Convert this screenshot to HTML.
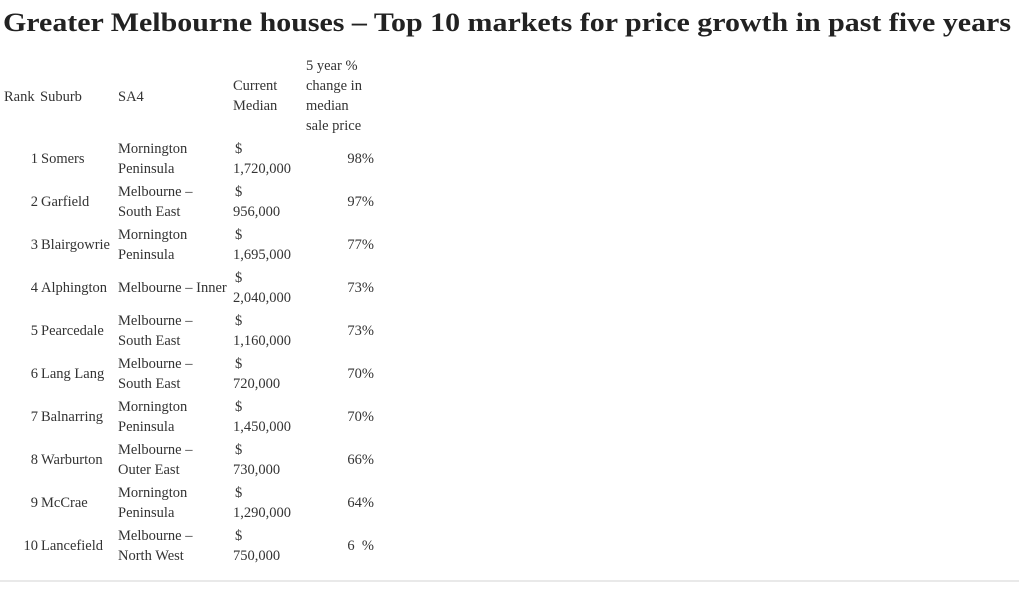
<!DOCTYPE html>
<html><head><meta charset="utf-8"><style>
body{margin:0;background:#fff;width:1019px;height:590px;overflow:hidden}
svg{display:block}
text{font-family:"Liberation Serif",serif;fill:#333;font-size:14.5px}
</style></head><body>
<svg width="1019" height="590">
<text x="3" y="31" font-weight="bold" style="font-size:26px;fill:#222" textLength="1008" lengthAdjust="spacingAndGlyphs">Greater Melbourne houses – Top 10 markets for price growth in past five years</text>
<g>
<text x="4" y="101">Rank</text>
<text x="40" y="101">Suburb</text>
<text x="118" y="101">SA4</text>
<text x="233" y="90">Current</text>
<text x="233" y="110">Median</text>
<text x="306" y="70">5 year %</text>
<text x="306" y="90">change in</text>
<text x="306" y="110">median</text>
<text x="306" y="130">sale price</text>
</g>
<g id="rows"></g>
<line x1="0" y1="581" x2="1019" y2="581" stroke="#e2e2e2" stroke-width="1.5"/>
</svg>
<script>
const suburbs=["Somers","Garfield","Blairgowrie","Alphington","Pearcedale","Lang Lang","Balnarring","Warburton","McCrae","Lancefield"];
const sa4a=["Mornington","Melbourne –","Mornington","Melbourne – Inner","Melbourne –","Melbourne –","Mornington","Melbourne –","Mornington","Melbourne –"];
const sa4b=["Peninsula","South East","Peninsula","","South East","South East","Peninsula","Outer East","Peninsula","North West"];
const medians=["1,720,000","956,000","1,695,000","2,040,000","1,160,000","720,000","1,450,000","730,000","1,290,000","750,000"];
const changes=["98%","97%","77%","73%","73%","70%","70%","66%","64%","6  %"];
const g=document.getElementById('rows');
const NS="http://www.w3.org/2000/svg";
function t(x,y,s,anchor,name){const e=document.createElementNS(NS,'text');e.setAttribute('x',x);e.setAttribute('y',y);if(anchor)e.setAttribute('text-anchor',anchor);e.textContent=s;


g.appendChild(e);return e;}
suburbs.forEach((s,i)=>{const c=158+i*43;
t(38,c+5,String(i+1),'end','rank-'+(i+1));
t(41,c+5,s,null,'suburb-'+(i+1));
if(sa4b[i]){t(118,c-5,sa4a[i],null,'sa4-'+(i+1));t(118,c+15,sa4b[i],null,'sa4-line2-'+(i+1));}
else t(118,c+5,sa4a[i],null,'sa4-'+(i+1));
t(235,c-5,'$',null,'currency-'+(i+1));
t(233,c+15,medians[i],null,'median-'+(i+1));
const p=t(374,c+5,changes[i],'end','change-'+(i+1));p.style.whiteSpace='pre';
});
</script>
</body></html>
